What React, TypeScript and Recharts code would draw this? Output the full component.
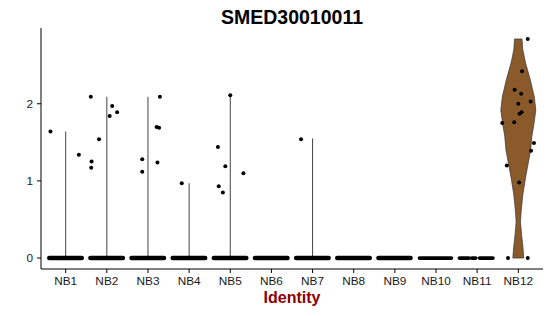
import React from 'react';
import { ScatterChart, Scatter, XAxis, YAxis } from 'recharts';

const groups = ['NB1', 'NB2', 'NB3', 'NB4', 'NB5', 'NB6', 'NB7', 'NB8', 'NB9', 'NB10', 'NB11', 'NB12'];

// highest value in each of the flat (mostly zero) groups NB1..NB11
const groupMax = [1.64, 2.09, 2.09, 0.97, 2.11, 0, 1.55, 0, 0, 0, 0];

// non-zero cells, [jitter, value] per group
const nb1Cells = [[-0.37, 1.64], [0.32, 1.34]];
const nb2Cells = [[-0.39, 2.09], [-0.19, 1.54], [0.13, 1.97], [0.07, 1.84], [0.25, 1.89], [-0.37, 1.25], [-0.38, 1.17]];
const nb3Cells = [[0.29, 2.09], [0.21, 1.7], [0.27, 1.69], [-0.14, 1.28], [-0.14, 1.12], [0.23, 1.24]];
const nb4Cells = [[-0.18, 0.97]];
const nb5Cells = [[-0.3, 1.44], [0, 2.11], [-0.28, 0.93], [-0.18, 0.85], [-0.12, 1.19], [0.32, 1.1]];
const nb7Cells = [[-0.28, 1.54]];
const nb12Cells = [
  [0.23, 2.84], [0.09, 2.42], [-0.09, 2.18], [0.07, 2.13], [0.3, 2.03], [0, 2.0], [0.08, 1.89], [0.03, 1.87],
  [-0.39, 1.75], [-0.1, 1.76], [0.38, 1.49], [0.31, 1.39], [-0.28, 1.2], [0.02, 0.98], [-0.25, 0], [0.23, 0],
];

// zero-valued cells pile up into a band: group, jitter from, jitter to
const zeroBandGroup = [1, 2, 3, 4, 5, 6, 7, 8, 9, 10, 11, 11, 11];
const zeroBandFrom = [-0.4, -0.4, -0.4, -0.4, -0.4, -0.4, -0.4, -0.4, -0.4, -0.4, -0.43, -0.13, 0.06];
const zeroBandTo = [0.39, 0.39, 0.39, 0.39, 0.39, 0.39, 0.39, 0.39, 0.38, 0.37, -0.2, -0.04, 0.38];
const sparseGroups = [10, 11];

// NB12 violin profile: level and half width
const violinLevels = [0, 0.13, 0.3, 0.47, 0.6, 0.82, 1.04, 1.25, 1.4, 1.58, 1.75, 1.92, 2.09, 2.31, 2.53, 2.7, 2.84];
const violinHalfWidth = [0.133, 0.114, 0.08, 0.053, 0.068, 0.109, 0.175, 0.248, 0.3, 0.33, 0.383, 0.425, 0.388, 0.291, 0.175, 0.109, 0.09];

const yTicks = [0, 1, 2];

const cellPoints = [
  [1, nb1Cells], [2, nb2Cells], [3, nb3Cells], [4, nb4Cells], [5, nb5Cells], [7, nb7Cells], [12, nb12Cells],
].flatMap(([g, cells]) => (cells as number[][]).map(([dx, v]) => ({ x: (g as number) + dx, y: v })));

const violinOutline = [
  ...violinLevels.map((lv, i) => ({ x: 12 + violinHalfWidth[i], y: lv })),
  ...violinLevels.map((lv, i) => ({ x: 12 - violinHalfWidth[i], y: lv })).reverse(),
];
violinOutline.push(violinOutline[0]);

const noShape = () => <g />;
const dot = (p: any) => <circle cx={p.cx} cy={p.cy} r={2} fill="#000" />;

const font = 'Liberation Sans, Arial, sans-serif';

export default function App() {
  return (
    <div style={{ position: 'absolute', left: 0, top: 0, width: 550, height: 316, background: '#fff' }}>
      <svg width={550} height={30} style={{ position: 'absolute', left: 0, top: 0 }}>
        <text x={292} y={23.5} textAnchor="middle" fontFamily={font} fontWeight="bold" fontSize={19.5} fill="#000">
          SMED30010011
        </text>
      </svg>
      <ScatterChart width={550} height={316} margin={{ top: 28, right: 7, bottom: 0, left: 0 }}>
        <XAxis
          type="number"
          dataKey="x"
          domain={[0.4, 12.6]}
          allowDataOverflow
          ticks={groups.map((_, i) => i + 1)}
          tickFormatter={(v) => groups[v - 1]}
          height={47}
          stroke="#000"
          tickSize={4}
          tickMargin={4}
          tick={{ fill: '#1a1a1a', fontSize: 11.8, fontFamily: font }}
          label={{
            value: 'Identity',
            position: 'insideBottom',
            offset: 13,
            fill: '#8B0000',
            fontSize: 16,
            fontWeight: 'bold',
            fontFamily: font,
          }}
        />
        <YAxis
          type="number"
          dataKey="y"
          domain={[-0.142, 2.982]}
          allowDataOverflow
          ticks={yTicks}
          width={41}
          stroke="#000"
          tickSize={4}
          tickMargin={4}
          tick={{ fill: '#1a1a1a', fontSize: 11.8, fontFamily: font }}
        />
        <Scatter
          data={violinOutline}
          shape={noShape}
          line={{ fill: '#8B5A2B', stroke: '#333', strokeWidth: 0.7 }}
          isAnimationActive={false}
        />
        {groupMax.map((m, i) => (
          <Scatter
            key={`base${i}`}
            data={[{ x: i + 1 - 0.42, y: 0 }, { x: i + 1 + 0.42, y: 0 }]}
            shape={noShape}
            line={{ stroke: '#555', strokeWidth: 0.8 }}
            isAnimationActive={false}
          />
        ))}
        {groupMax.map((m, i) =>
          m > 0 ? (
            <Scatter
              key={`stem${i}`}
              data={[{ x: i + 1, y: 0 }, { x: i + 1, y: m }]}
              shape={noShape}
              line={{ stroke: '#444', strokeWidth: 1 }}
              isAnimationActive={false}
            />
          ) : null
        )}
        {zeroBandGroup.map((g, i) => (
          <Scatter
            key={`zero${i}`}
            data={[{ x: g + zeroBandFrom[i], y: 0 }, { x: g + zeroBandTo[i], y: 0 }]}
            shape={noShape}
            line={{ stroke: '#000', strokeWidth: sparseGroups.includes(g) ? 3.8 : 4.5, strokeLinecap: 'round' }}
            isAnimationActive={false}
          />
        ))}
        <Scatter data={cellPoints} shape={dot} isAnimationActive={false} />
      </ScatterChart>
    </div>
  );
}
